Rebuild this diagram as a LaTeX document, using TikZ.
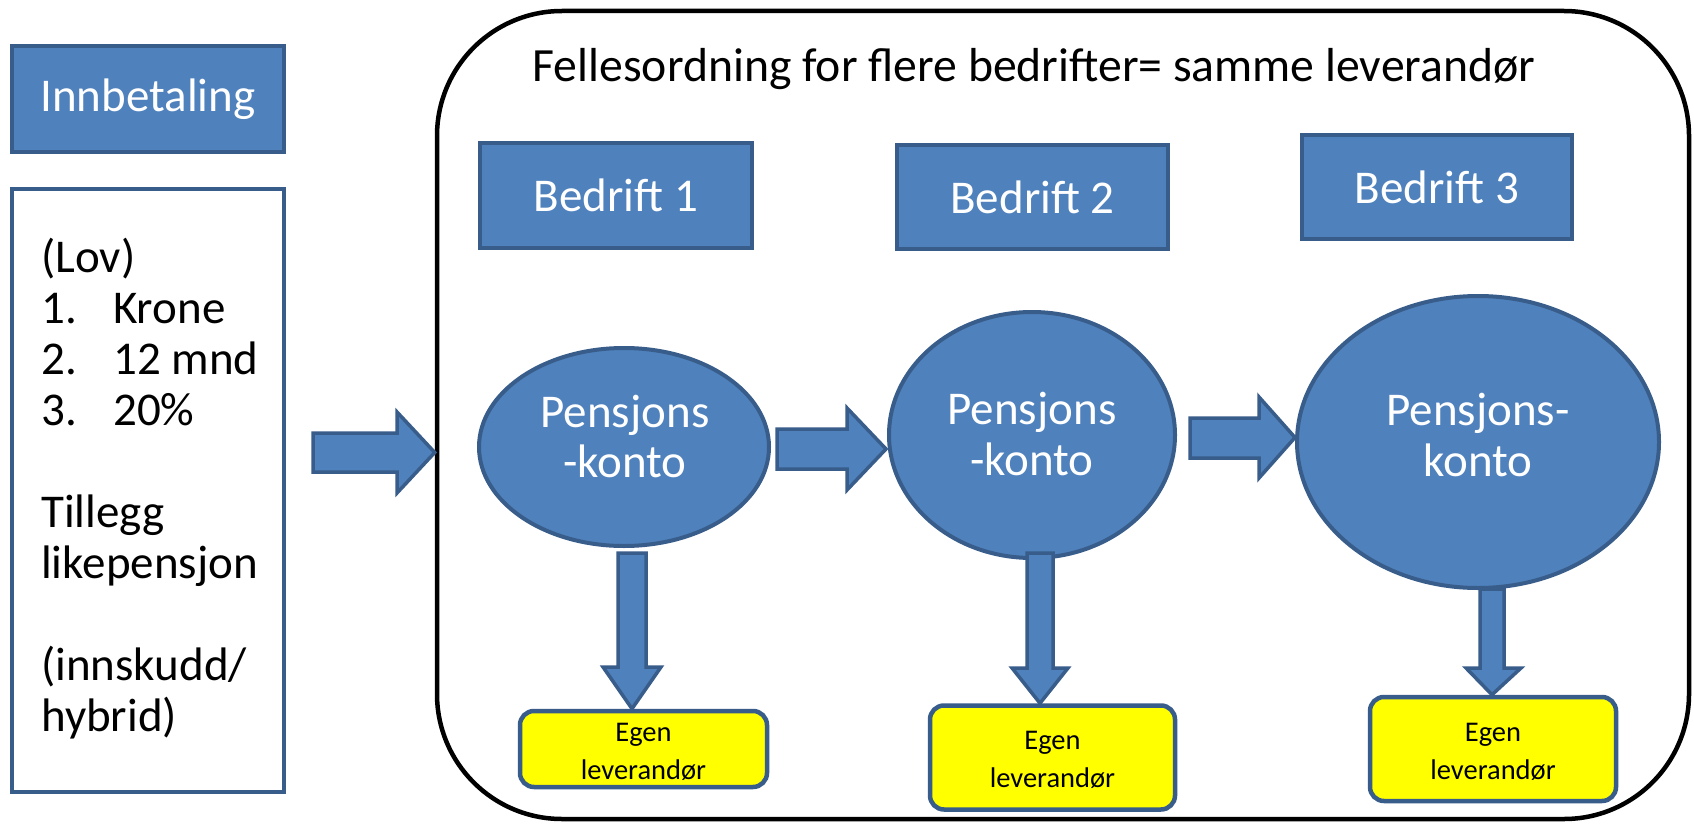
\documentclass[tikz,border=0pt]{standalone}
\usepackage{fontspec}
\setmainfont{Carlito}
\usetikzlibrary{shapes.geometric,calc}
\definecolor{fillblue}{HTML}{4F81BD}
\definecolor{lineblue}{HTML}{385D8A}
\definecolor{boxyellow}{HTML}{FFFF00}
\tikzset{
  bigfont/.style={font=\fontsize{47}{51}\selectfont},
  bluebox/.style={draw=lineblue, fill=fillblue, line width=4pt, text=white, bigfont, inner sep=0pt},
  blueell/.style={ellipse, draw=lineblue, fill=fillblue, line width=4pt, inner sep=0pt},
  elltext/.style={anchor=base, inner sep=0pt, text=white, bigfont},
  yellowbox/.style={draw=lineblue, fill=boxyellow, line width=4.5pt, rounded corners=14pt, inner sep=0pt},
  yellowtext/.style={anchor=base, inner sep=0pt, font=\fontsize{28.5}{38}\selectfont},
  blockarrow/.style={draw=lineblue, fill=fillblue, line width=3.5pt, line join=miter},
  listline/.style={anchor=base west, inner sep=0pt, bigfont},
}
\begin{document}
\begin{tikzpicture}[x=1pt, y=-1pt]
\useasboundingbox (0,0) rectangle (1694,824);
\fill[white] (0,0) rectangle (1694,824);

% big rounded container
\node[draw=black, line width=4.5pt, rounded corners=125pt, minimum width=1252pt, minimum height=808pt, inner sep=0pt] (frame) at (1063,415) {};
\node[anchor=base, font=\fontsize{47.7}{52}\selectfont, inner sep=0pt] (title) at (1034,82) {Fellesordning for flere bedrifter= samme leverandør};

% left column
\node[bluebox, minimum width=272pt, minimum height=106pt] (innb) at (148,99) {Innbetaling};
\node[draw=lineblue, fill=white, line width=4pt, minimum width=272pt, minimum height=603pt, inner sep=0pt] (lov) at (148,490) {};
\node[listline] (l0) at (41,272) {(Lov)};
\node[listline] (l1n) at (41,323) {1.};
\node[listline] (l1) at (113,323) {Krone};
\node[listline] (l2n) at (41,374) {2.};
\node[listline] (l2) at (113,374) {12 mnd};
\node[listline] (l3n) at (41,425) {3.};
\node[listline] (l3) at (113,425) {20\%};
\node[listline] (l4) at (41,527) {Tillegg};
\node[listline] (l5) at (41,578) {likepensjon};
\node[listline] (l6) at (41,680) {(innskudd/};
\node[listline] (l7) at (41,731) {hybrid)};

% companies
\node[bluebox, minimum width=272pt, minimum height=105pt] (b1) at (616,195.5) {Bedrift 1};
\node[bluebox, minimum width=271pt, minimum height=104pt] (b2) at (1032.5,197) {Bedrift 2};
\node[bluebox, minimum width=270pt, minimum height=104pt] (b3) at (1437,187) {Bedrift 3};

% pension accounts
\node[blueell, minimum width=290pt, minimum height=198pt] (e1) at (624,447) {};
\node[blueell, minimum width=286pt, minimum height=246pt] (e2) at (1032,435) {};
\node[blueell, minimum width=362pt, minimum height=292pt] (e3) at (1478,442) {};
\node[elltext] (e1a) at (625,427) {Pensjons};
\node[elltext] (e1b) at (625,477) {-konto};
\node[elltext] (e2a) at (1032,424) {Pensjons};
\node[elltext] (e2b) at (1032,475) {-konto};
\node[elltext] (e3a) at (1478,425) {Pensjons-};
\node[elltext] (e3b) at (1478,476) {konto};

% providers
\node[yellowbox, minimum width=247pt, minimum height=76pt] (y1) at (643.5,749) {};
\node[yellowbox, minimum width=245pt, minimum height=104pt] (y2) at (1052.5,757.5) {};
\node[yellowbox, minimum width=246pt, minimum height=104pt] (y3) at (1493,749) {};
\node[yellowtext] (y1a) at (643.5,741) {Egen};
\node[yellowtext] (y1b) at (643.5,779) {leverandør};
\node[yellowtext] (y2a) at (1052.5,749) {Egen};
\node[yellowtext] (y2b) at (1052.5,787) {leverandør};
\node[yellowtext] (y3a) at (1493,741) {Egen};
\node[yellowtext] (y3b) at (1493,779) {leverandør};

% helper coordinates for arrow tips
\coordinate (h0) at (0,452.5);
\coordinate (h2) at (0,437.5);
\coordinate (v1) at (632,0);
\coordinate (v2) at (1040,0);
\coordinate (v3) at (1492,0);

% horizontal block arrows
\draw[blockarrow] (313,433) -- (397,433) -- (397,412) -- (frame.west |- h0) -- (397,493) -- (397,472) -- (313,472) -- cycle;
\draw[blockarrow] (777,429) -- (847,429) -- (847,408) -- (886,449) -- (847,490) -- (847,469) -- (777,469) -- cycle;
\draw[blockarrow] (1190,418) -- (1259,418) -- (1259,397) -- (e3.west |- h2) -- (1259,478) -- (1259,458) -- (1190,458) -- cycle;

% vertical block arrows
\draw[blockarrow] (618,553) -- (646,553) -- (646,667) -- (661,667) -- (y1.north -| v1) -- (603,667) -- (618,667) -- cycle;
\draw[blockarrow] (1027,553) -- (1053,553) -- (1053,668) -- (1068,668) -- (y2.north -| v2) -- (1012,668) -- (1027,668) -- cycle;
\draw[blockarrow] (1480,589) -- (1504,589) -- (1504,668) -- (1521,668) -- (y3.north -| v3) -- (1466,668) -- (1480,668) -- cycle;
\end{tikzpicture}
\end{document}
